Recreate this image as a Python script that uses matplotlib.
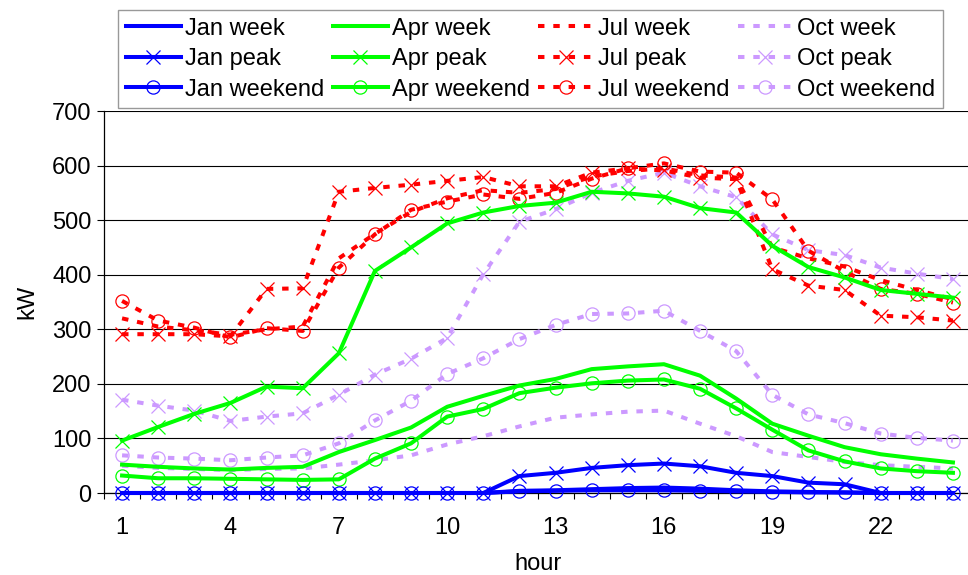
import numpy as np
import matplotlib
matplotlib.use("Agg")
import matplotlib.pyplot as plt

# Data (kW per hour)
hours = list(range(1, 25))
xtick_labels = [1, 4, 7, 10, 13, 16, 19, 22]

jan_week = [0, 0, 0, 0, 0, 0, 0, 0, 0, 0, 0, 4, 5, 7, 9, 10, 8, 5, 3, 2, 1, 0, 0, 0]
jan_peak = [0, 0, 0, 0, 0, 0, 0, 0, 0, 0, 0, 31, 37, 46, 51, 54, 49, 37, 31, 19, 16, 0, 0, 0]
jan_weekend = [0, 0, 0, 0, 0, 0, 0, 0, 0, 0, 0, 3, 4, 5, 5, 5, 4, 3, 2, 1, 1, 0, 0, 0]

apr_week = [52, 48, 45, 43, 46, 48, 75, 97, 120, 158, 178, 197, 209, 227, 232, 236, 215, 173, 127, 105, 84, 71, 63, 56]
apr_peak = [96, 121, 145, 165, 195, 192, 256, 407, 450, 494, 514, 526, 532, 552, 549, 543, 522, 514, 453, 414, 395, 372, 365, 358]
apr_weekend = [32, 27, 27, 26, 25, 24, 25, 63, 91, 140, 154, 183, 193, 201, 206, 208, 191, 155, 116, 78, 58, 45, 40, 37]

jul_week = [320, 305, 298, 290, 300, 305, 430, 475, 515, 540, 555, 550, 557, 580, 590, 595, 582, 578, 450, 430, 415, 390, 372, 355]
jul_peak = [291, 291, 291, 287, 374, 375, 552, 559, 565, 572, 579, 562, 562, 587, 595, 591, 578, 575, 410, 380, 372, 325, 322, 316]
jul_weekend = [352, 316, 303, 285, 302, 297, 413, 474, 519, 534, 547, 539, 550, 576, 595, 604, 589, 587, 538, 444, 406, 374, 365, 349]

oct_week = [50, 46, 44, 42, 44, 45, 52, 60, 69, 89, 104, 122, 138, 144, 149, 151, 127, 104, 75, 66, 57, 51, 48, 45]
oct_peak = [171, 160, 151, 132, 140, 146, 180, 217, 246, 284, 401, 497, 520, 550, 572, 587, 562, 542, 474, 445, 436, 413, 402, 392]
oct_weekend = [69, 65, 63, 60, 65, 69, 91, 133, 169, 218, 247, 282, 308, 328, 329, 334, 297, 260, 180, 144, 128, 109, 101, 96]

plt.rcParams['font.family'] = ['Liberation Sans', 'DejaVu Sans']
FS = 17

fig = plt.figure(figsize=(9.68, 5.75), dpi=100)
ax = fig.add_axes([104 / 968, 1 - 493 / 575, 867 / 968, 382 / 575])

lw = 2.9
dash = (1.6, 2.2)
ms = 9.5
mew = 0.9

blue = '#0000FF'
green = '#00FF00'
red = '#FF0000'
lav = '#CC99FF'

series = [
    ('Jan week', jan_week, blue, '-', None),
    ('Jan peak', jan_peak, blue, '-', 'x'),
    ('Jan weekend', jan_weekend, blue, '-', 'o'),
    ('Apr week', apr_week, green, '-', None),
    ('Apr peak', apr_peak, green, '-', 'x'),
    ('Apr weekend', apr_weekend, green, '-', 'o'),
    ('Jul week', jul_week, red, '--', None),
    ('Jul peak', jul_peak, red, '--', 'x'),
    ('Jul weekend', jul_weekend, red, '--', 'o'),
    ('Oct week', oct_week, lav, '--', None),
    ('Oct peak', oct_peak, lav, '--', 'x'),
    ('Oct weekend', oct_weekend, lav, '--', 'o'),
]

for i, (name, vals, col, ls, mk) in enumerate(series):
    line, = ax.plot(hours, vals, color=col, lw=lw, linestyle=ls, marker=mk,
                    ms=ms, mew=mew, mfc='none', mec=col, label=name,
                    zorder=3 + (12 - i) * 0.01, clip_on=False)
    if ls == '--':
        line.set_dashes(dash)

ax.set_xlim(0.5, 24.5)
ax.set_ylim(0, 700)
ax.set_yticks(range(0, 701, 100))
ax.set_xticks(xtick_labels)
ax.set_xticks(np.arange(0.5, 25, 1), minor=True)
ax.tick_params(axis='x', which='major', length=0, pad=17, labelsize=FS)
ax.tick_params(axis='x', which='minor', length=4, width=0.8, direction='out')
ax.tick_params(axis='y', which='major', length=5, width=0.8, direction='out', labelsize=FS, pad=4)

ax.grid(axis='y', color='black', lw=0.8)
ax.set_axisbelow(True)
for s in ['top', 'right']:
    ax.spines[s].set_visible(False)
for s in ['left', 'bottom']:
    ax.spines[s].set_linewidth(0.9)
    ax.spines[s].set_zorder(2.5)

ax.set_xlabel('hour', fontsize=FS, labelpad=10)
ax.set_ylabel('kW', fontsize=FS, labelpad=10)

leg = fig.legend(loc='upper left', bbox_to_anchor=(118 / 968, 1 - 10 / 575), ncol=4,
                 fontsize=FS, frameon=True, fancybox=False, edgecolor='#808080',
                 handlelength=2.35, handletextpad=0.17, columnspacing=0.35,
                 labelspacing=0.36, borderpad=0.32, borderaxespad=0)
leg.get_frame().set_linewidth(1.0)

fig.savefig('out.png', dpi=100)
